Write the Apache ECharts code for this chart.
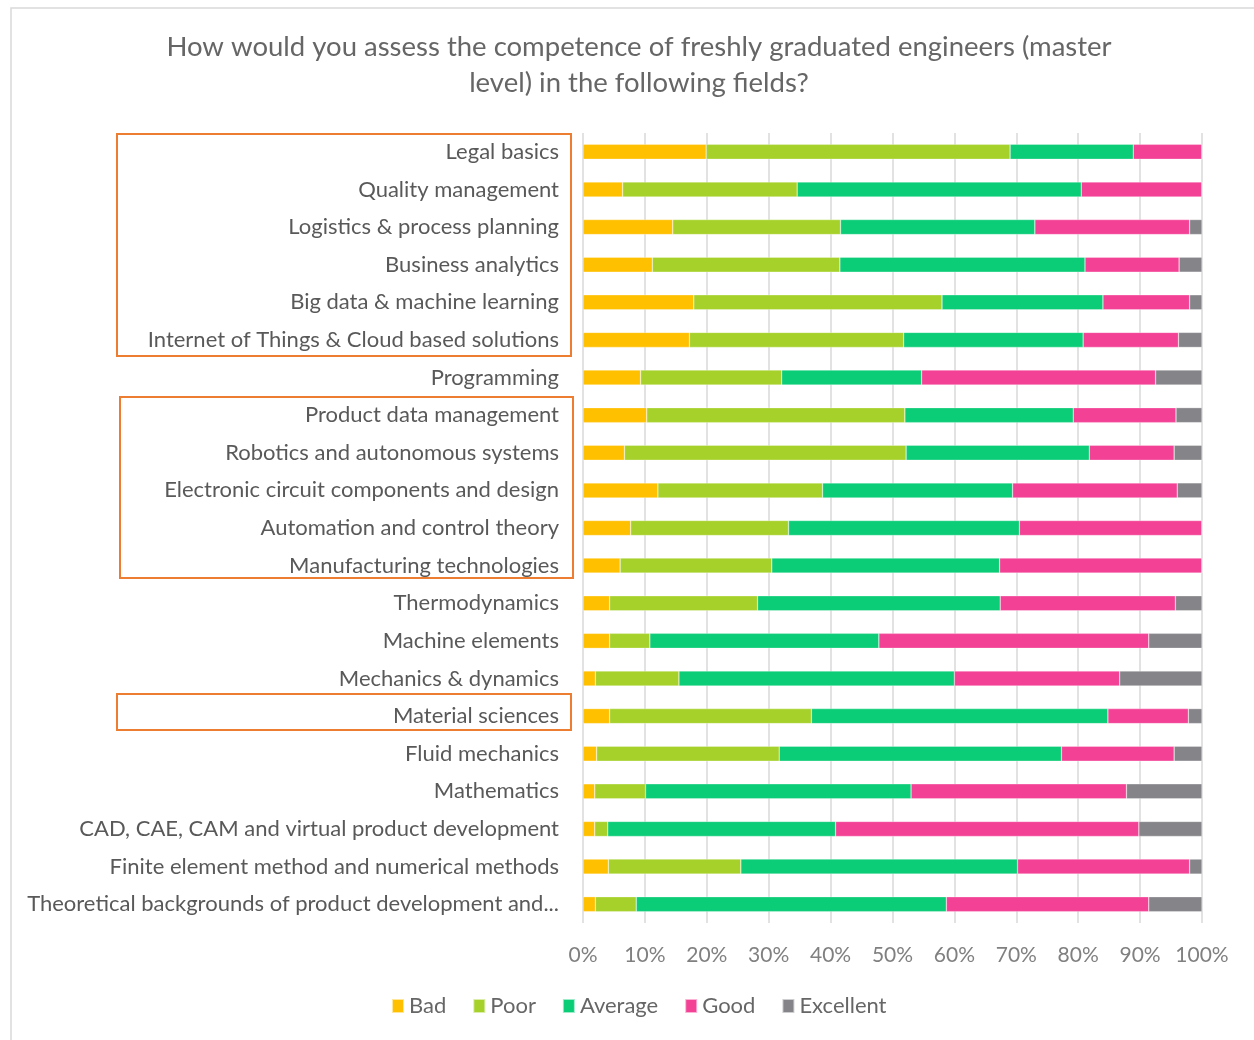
<!DOCTYPE html>
<html>
<head>
<meta charset="utf-8">
<script src="https://cdn.jsdelivr.net/npm/echarts@6/dist/echarts.min.js"></script>
<style>html,body{margin:0;padding:0;background:#fff}#c{width:1254px;height:1040px}</style>
</head>
<body>
<div id="c"></div>
<script>
const categories = [
  "Legal basics",
  "Quality management",
  "Logistics & process planning",
  "Business analytics",
  "Big data & machine learning",
  "Internet of Things & Cloud based solutions",
  "Programming",
  "Product data management",
  "Robotics and autonomous systems",
  "Electronic circuit components and design",
  "Automation and control theory",
  "Manufacturing technologies",
  "Thermodynamics",
  "Machine elements",
  "Mechanics & dynamics",
  "Material sciences",
  "Fluid mechanics",
  "Mathematics",
  "CAD, CAE, CAM and virtual product development",
  "Finite element method and numerical methods",
  "Theoretical backgrounds of product development and..."
];
const bad       = [19.9, 6.4, 14.5, 11.2, 17.9, 17.2, 9.3, 10.3, 6.7, 12.1, 7.7, 6.0, 4.3, 4.3, 2.0, 4.3, 2.2, 1.9, 1.9, 4.1, 2.0];
const poor      = [49.1, 28.2, 27.1, 30.3, 40.1, 34.6, 22.8, 41.7, 45.5, 26.6, 25.5, 24.5, 23.9, 6.5, 13.5, 32.6, 29.5, 8.2, 2.1, 21.4, 6.6];
const average   = [19.9, 45.9, 31.4, 39.6, 26.0, 29.0, 22.6, 27.2, 29.6, 30.7, 37.3, 36.8, 39.2, 37.0, 44.5, 47.9, 45.6, 42.9, 36.8, 44.7, 50.1];
const good      = [11.1, 19.5, 25.0, 15.2, 14.0, 15.4, 37.8, 16.6, 13.7, 26.6, 29.5, 32.7, 28.3, 43.6, 26.7, 13.0, 18.2, 34.8, 49.0, 27.8, 32.7];
const excellent = [0, 0, 2.0, 3.7, 2.0, 3.8, 7.5, 4.2, 4.5, 4.0, 0, 0, 4.3, 8.6, 13.3, 2.2, 4.5, 12.2, 10.2, 2.0, 8.6];
const seriesNames = ["Bad", "Poor", "Average", "Good", "Excellent"];
const xTicks = [0, 10, 20, 30, 40, 50, 60, 70, 80, 90, 100];

const colors = ["#FFC000", "#A6D12A", "#0BCC77", "#F34196", "#858489"];
const FONT = "Lato";
const seriesData = [bad, poor, average, good, excellent];

const chart = echarts.init(document.getElementById('c'), null, {renderer: 'canvas'});
chart.setOption({
  animation: false,
  color: colors,
  title: {
    text: "How would you assess the competence of freshly graduated engineers (master\nlevel) in the following fields?",
    left: 634, textAlign: 'center', top: 24,
    textStyle: {fontFamily: FONT, fontSize: 27.5, fontWeight: 'normal', color: '#666666', lineHeight: 36}
  },
  legend: {
    bottom: 18, left: 386,
    itemWidth: 12, itemHeight: 14, itemGap: 26,
    icon: 'rect',
    textStyle: {fontFamily: FONT, fontSize: 22, color: '#666666'},
    data: seriesNames
  },
  grid: {left: 583, right: 52, top: 133, bottom: 117, containLabel: false},
  xAxis: {
    type: 'value', min: 0, max: 100, interval: 10,
    axisLine: {show: false}, axisTick: {show: false},
    splitLine: {show: true, lineStyle: {color: '#d9d9d9', width: 1.5}},
    axisLabel: {formatter: v => v + '%', fontFamily: FONT, fontSize: 21, color: '#808080', margin: 22}
  },
  yAxis: {
    type: 'category', inverse: true, data: categories,
    axisLine: {show: false}, axisTick: {show: false},
    axisLabel: {fontFamily: FONT, fontSize: 22, color: '#595959', margin: 24}
  },
  series: seriesNames.map((n, i) => ({
    name: n, type: 'bar', stack: 'total', barWidth: 15,
    data: seriesData[i],
    itemStyle: {color: colors[i], borderColor: 'rgba(255,255,255,0.6)', borderWidth: 0.5}
  })),
  graphic: [
    {type: 'rect', shape: {x: 11, y: 8, width: 1300, height: 1100}, style: {fill: 'none', stroke: '#d9d9d9', lineWidth: 1.5}, silent: true},
    {type: 'rect', shape: {x: 117, y: 134, width: 454, height: 222}, style: {fill: 'none', stroke: '#ED7D31', lineWidth: 2}, silent: true},
    {type: 'rect', shape: {x: 120, y: 397, width: 453, height: 181}, style: {fill: 'none', stroke: '#ED7D31', lineWidth: 2}, silent: true},
    {type: 'rect', shape: {x: 117, y: 694, width: 454, height: 36}, style: {fill: 'none', stroke: '#ED7D31', lineWidth: 2}, silent: true}
  ]
});
</script>
</body>
</html>
